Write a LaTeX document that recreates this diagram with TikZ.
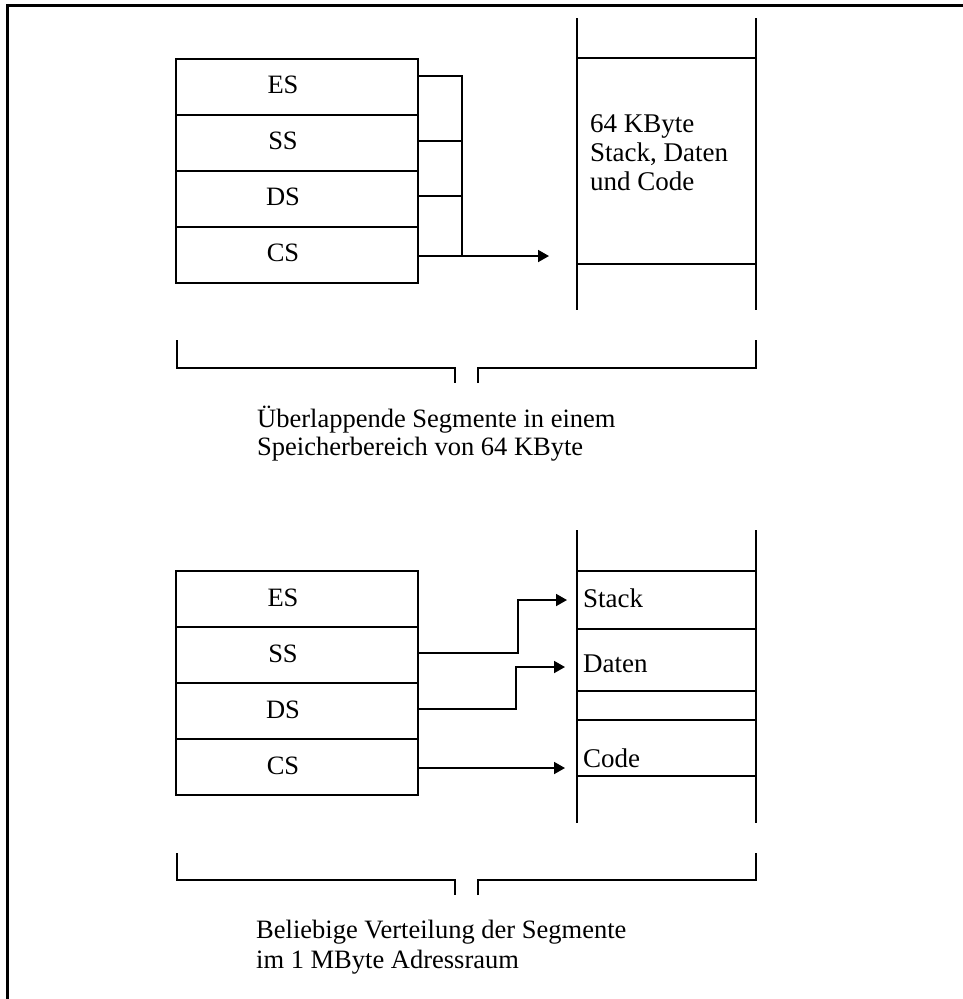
\documentclass[tikz,border=0pt]{standalone}
\usepackage{fontspec}
\setmainfont{Liberation Serif}
\usetikzlibrary{arrows.meta}
\begin{document}
\begin{tikzpicture}[x=1pt,y=-1pt,
  reg/.style={draw,line width=1.8pt,minimum width=242pt,minimum height=56pt,inner sep=0pt,outer sep=0pt},
  lab/.style={font=\fontsize{26.5}{30}\selectfont,inner sep=0pt,anchor=base},
  memtxt/.style={font=\fontsize{27}{29}\selectfont,inner sep=0pt,anchor=base west,align=left},
  captext/.style={font=\fontsize{26.5}{28}\selectfont,inner sep=0pt,anchor=base west,align=left},
  ln/.style={line width=1.8pt},
  arr/.style={line width=1.8pt,-{Triangle[length=11pt,width=12pt]}}]
\useasboundingbox (0,0) rectangle (963,999);
\fill[white] (0,0) rectangle (963,999);
% frame
\draw[line width=3pt] (7,999) -- (7,5) -- (963,5);

% ---------- upper part ----------
\node[reg] (es1) at (297,87) {};
\node[reg] (ss1) at (297,143) {};
\node[reg] (ds1) at (297,199) {};
\node[reg] (cs1) at (297,255) {};
\node[lab] (les1) at ([xshift=-14pt,yshift=-6pt]es1.center) {ES};
\node[lab] (lss1) at ([xshift=-14pt,yshift=-6pt]ss1.center) {SS};
\node[lab] (lds1) at ([xshift=-14pt,yshift=-6pt]ds1.center) {DS};
\node[lab] (lcs1) at ([xshift=-14pt,yshift=-6pt]cs1.center) {CS};

\coordinate (bus) at (462,256);
\coordinate (t1) at (549,256);
\draw[ln] ([yshift=11pt]es1.east) -| (bus);
\draw[ln] ([yshift=2pt]ss1.east) -- ([yshift=2pt]ss1.east -| bus);
\draw[ln] ([yshift=3pt]ds1.east) -- ([yshift=3pt]ds1.east -| bus);
\draw[arr] (cs1.east |- bus) -- (t1);

% memory column (upper)
\draw[ln] (577,18) -- (577,310);
\draw[ln] (756,18) -- (756,310);
\draw[ln] (577,58) -- (756,58);
\draw[ln] (577,264) -- (756,264);
\node[memtxt] (m1) at (590,190) {64 KByte\\Stack, Daten\\und Code};

% bracket 1
\draw[ln] (177,340) -- (177,368) -- (455,368) -- (455,383);
\draw[ln] (478,383) -- (478,368) -- (756,368) -- (756,340);
\node[captext] (c1) at (257,455) {Überlappende Segmente in einem\\Speicherbereich von 64 KByte};

% ---------- lower part ----------
\node[reg] (es2) at (297,599) {};
\node[reg] (ss2) at (297,655) {};
\node[reg] (ds2) at (297,711) {};
\node[reg] (cs2) at (297,767) {};
\node[lab] (les2) at ([xshift=-14pt,yshift=-7pt]es2.center) {ES};
\node[lab] (lss2) at ([xshift=-14pt,yshift=-7pt]ss2.center) {SS};
\node[lab] (lds2) at ([xshift=-14pt,yshift=-7pt]ds2.center) {DS};
\node[lab] (lcs2) at ([xshift=-14pt,yshift=-7pt]cs2.center) {CS};

% memory column (lower)
\draw[ln] (577,530) -- (577,823);
\draw[ln] (756,530) -- (756,823);
\draw[ln] (577,571) -- (756,571);
\draw[ln] (577,629) -- (756,629);
\draw[ln] (577,691) -- (756,691);
\draw[ln] (577,720) -- (756,720);
\draw[ln] (577,776) -- (756,776);
\node[memtxt] (stk) at (583,607) {Stack};
\node[memtxt] (dat) at (583,672) {Daten};
\node[memtxt] (cod) at (583,767) {Code};

\coordinate (tS) at (567,600);
\coordinate (tD) at (565,667);
\coordinate (tC) at (565,768);
\draw[arr] ([yshift=2pt]ss2.east) -- ++(100,0) |- (tS);
\draw[arr] ([yshift=2pt]ds2.east) -- ++(98,0) |- (tD);
\draw[arr] (cs2.east |- tC) -- (tC);

% bracket 2
\draw[ln] (177,853) -- (177,880) -- (455,880) -- (455,895);
\draw[ln] (478,895) -- (478,880) -- (756,880) -- (756,853);
\node[captext,font=\fontsize{26.5}{30}\selectfont] (c2) at (256,968) {Beliebige Verteilung der Segmente\\im 1 MByte Adressraum};
\end{tikzpicture}
\end{document}
